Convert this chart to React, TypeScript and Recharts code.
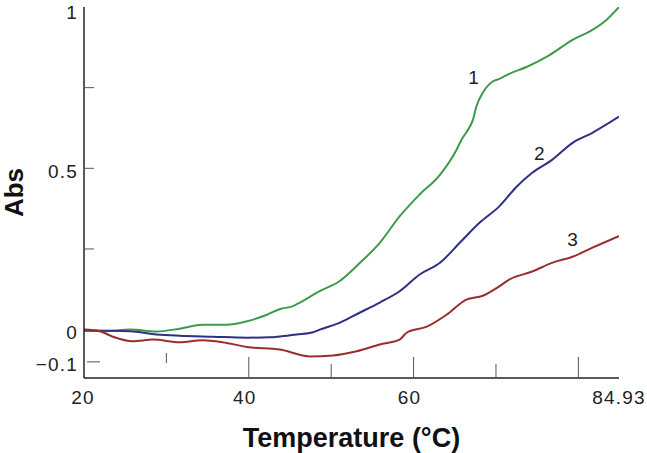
import React from 'react';
import { LineChart, Line, XAxis, YAxis, ReferenceDot } from 'recharts';

// Curve 1 (green)
const temps1 = [20, 22.5, 25.6, 28.8, 31.6, 34.4, 37.3, 39.8, 42.2, 43.8, 45.3, 46.2, 48.6, 51.0, 53.5, 55.9, 58.3, 60.7, 63.2, 65.2, 65.8, 66.8, 67.2, 67.6, 68.4, 69.6, 70.4, 71.6, 73.7, 76.5, 79.3, 81.7, 83.4, 84.93];
const abs1 = [-0.003, -0.005, 0.0, -0.006, 0.003, 0.015, 0.015, 0.026, 0.046, 0.064, 0.072, 0.084, 0.119, 0.15, 0.207, 0.269, 0.351, 0.418, 0.48, 0.557, 0.588, 0.628, 0.65, 0.69, 0.734, 0.769, 0.777, 0.793, 0.814, 0.851, 0.898, 0.929, 0.96, 1.0];

// Curve 2 (blue)
const temps2 = [20, 25.6, 28.8, 31.6, 35.6, 39.8, 42.5, 43.8, 45.8, 47.8, 48.6, 51.0, 53.5, 55.9, 58.3, 60.7, 63.2, 65.6, 68.0, 70.4, 72.5, 74.4, 76.8, 79.3, 81.7, 84.93];
const abs2 = [-0.003, -0.005, -0.015, -0.019, -0.022, -0.025, -0.024, -0.021, -0.015, -0.008, 0.0, 0.021, 0.053, 0.084, 0.119, 0.17, 0.207, 0.269, 0.331, 0.382, 0.443, 0.486, 0.526, 0.579, 0.61, 0.66];

// Curve 3 (red)
const temps3 = [20, 21.9, 23.5, 25.9, 28.4, 31.6, 34.4, 36.8, 39.8, 43.8, 47.4, 50.2, 53.1, 55.9, 58.3, 59.2, 61.6, 64.0, 66.4, 68.4, 70.4, 71.6, 74.4, 76.8, 79.3, 81.7, 84.93];
const abs3 = [0.0, -0.005, -0.022, -0.036, -0.031, -0.039, -0.033, -0.039, -0.054, -0.062, -0.083, -0.08, -0.067, -0.046, -0.031, -0.009, 0.009, 0.046, 0.093, 0.105, 0.134, 0.155, 0.18, 0.207, 0.226, 0.254, 0.29];

// Ticks
const xTicks = [20, 30, 40, 50, 60, 70, 80, 84.93];
const xTickLabels = ['20', '', '40', '', '60', '', '', '84.93'];
const yTicks = [-0.1, 0, 0.25, 0.5, 0.75, 1];
const yTickLabels = ['\u22120.1', '0', '', '0.5', '', '1'];

// Curve labels
const curveLabels = ['1', '2', '3'];
const curveLabelT = [67.27, 75.27, 79.3];
const curveLabelA = [0.783, 0.547, 0.279];

const xDomain: [number, number] = [20, 84.93];
const yDomain: [number, number] = [-0.15, 1];

const s1 = temps1.map((t, i) => ({ t, a: abs1[i] }));
const s2 = temps2.map((t, i) => ({ t, a: abs2[i] }));
const s3 = temps3.map((t, i) => ({ t, a: abs3[i] }));

const FONT = '"Liberation Sans", Arial, sans-serif';
const AXIS = '#222';
const TICK = '#555';

const XTick = (props: any) => {
  const { x, y, payload } = props;
  const v = payload.value;
  const idx = xTicks.indexOf(v);
  const label = idx >= 0 ? xTickLabels[idx] : '';
  const marks: Record<string, [number, number]> = {
    '30': [15, 25], '40': [0, 21], '50': [0, 14], '60': [0, 21], '70': [0, 14], '80': [0, 21],
  };
  const dxMap: Record<string, number> = { '40': -4, '60': -4, '20': -1, '84.93': 0 };
  const m = marks[String(v)];
  return (
    <g>
      {m && <line x1={x} x2={x} y1={y - m[0]} y2={y - m[1]} stroke={TICK} strokeWidth={1} />}
      {label && (
        <text x={x + (dxMap[String(v)] || 0)} y={y + 26} textAnchor="middle" fontSize={19} letterSpacing={1.2} fontFamily={FONT} fill="#222">
          {label}
        </text>
      )}
    </g>
  );
};

const YTick = (props: any) => {
  const { x, y, payload } = props;
  const v = payload.value;
  const idx = yTicks.indexOf(v);
  const label = idx >= 0 ? yTickLabels[idx] : '';
  const marks: Record<string, [number, number]> = {
    '0.25': [0, 10], '0.5': [0, 10], '0.75': [0, 10], '-0.1': [3, 16],
  };
  const m = marks[String(v)];
  const extra = v === 1 ? 5 : 2.5;
  return (
    <g>
      {m && <line x1={x + m[0]} x2={x + m[1]} y1={y} y2={y} stroke={TICK} strokeWidth={1} />}
      {label && (
        <text x={x - 6} y={y + 6.8 + extra} textAnchor="end" fontSize={19} letterSpacing={1.2} fontFamily={FONT} fill="#222">
          {label}
        </text>
      )}
    </g>
  );
};

const XTitle = (props: any) => {
  const vb = props.viewBox || {};
  return (
    <text x={vb.x + vb.width / 2} y={vb.y + 68.5} textAnchor="middle" fontSize={27} fontWeight="bold" fontFamily={FONT} fill="#111">
      Temperature (°C)
    </text>
  );
};

const YTitle = (props: any) => {
  const vb = props.viewBox || {};
  const cx = vb.x + 23;
  const cy = vb.y + vb.height / 2;
  return (
    <text x={cx} y={cy} transform={`rotate(-90 ${cx} ${cy})`} textAnchor="middle" fontSize={26} fontWeight="bold" fontFamily={FONT} fill="#111">
      Abs
    </text>
  );
};

export default function App() {
  return (
    <div style={{ position: 'absolute', left: 0, top: 0, width: 647, height: 453, background: '#fff' }}>
      <LineChart width={647} height={453} margin={{ top: 7, right: 28, bottom: 0, left: 0 }}>
        <XAxis
          dataKey="t"
          type="number"
          domain={xDomain}
          ticks={xTicks}
          allowDataOverflow
          height={75}
          tickSize={0}
          tickMargin={0}
          tickLine={false}
          tick={<XTick />}
          axisLine={{ stroke: AXIS, strokeWidth: 1.5 }}
          label={<XTitle />}
          interval={0}
        />
        <XAxis
          xAxisId="top"
          orientation="top"
          type="number"
          domain={xDomain}
          allowDataOverflow
          height={0}
          tick={false}
          tickLine={false}
          axisLine={{ stroke: AXIS, strokeWidth: 1.5 }}
        />
        <YAxis
          type="number"
          domain={yDomain}
          ticks={yTicks}
          allowDataOverflow
          width={84}
          tickSize={0}
          tickMargin={0}
          tickLine={false}
          tick={<YTick />}
          axisLine={{ stroke: AXIS, strokeWidth: 1.5 }}
          label={<YTitle />}
          interval={0}
        />
        <YAxis
          yAxisId="right"
          orientation="right"
          type="number"
          domain={yDomain}
          allowDataOverflow
          width={0}
          tick={false}
          tickLine={false}
          axisLine={{ stroke: AXIS, strokeWidth: 1.5 }}
        />
        <Line data={s1} dataKey="a" type="monotone" stroke="#3e9a4b" strokeWidth={2} dot={false} isAnimationActive={false} />
        <Line data={s2} dataKey="a" type="monotone" stroke="#2f2f85" strokeWidth={2} dot={false} isAnimationActive={false} />
        <Line data={s3} dataKey="a" type="monotone" stroke="#9a2e2e" strokeWidth={2} dot={false} isAnimationActive={false} />
        {curveLabels.map((l, i) => (
          <ReferenceDot
            key={l}
            x={curveLabelT[i]}
            y={curveLabelA[i]}
            r={0}
            fill="none"
            stroke="none"
            label={{ value: l, position: 'center', fontSize: 19, fontFamily: FONT, fill: '#222' }}
          />
        ))}
      </LineChart>
    </div>
  );
}
